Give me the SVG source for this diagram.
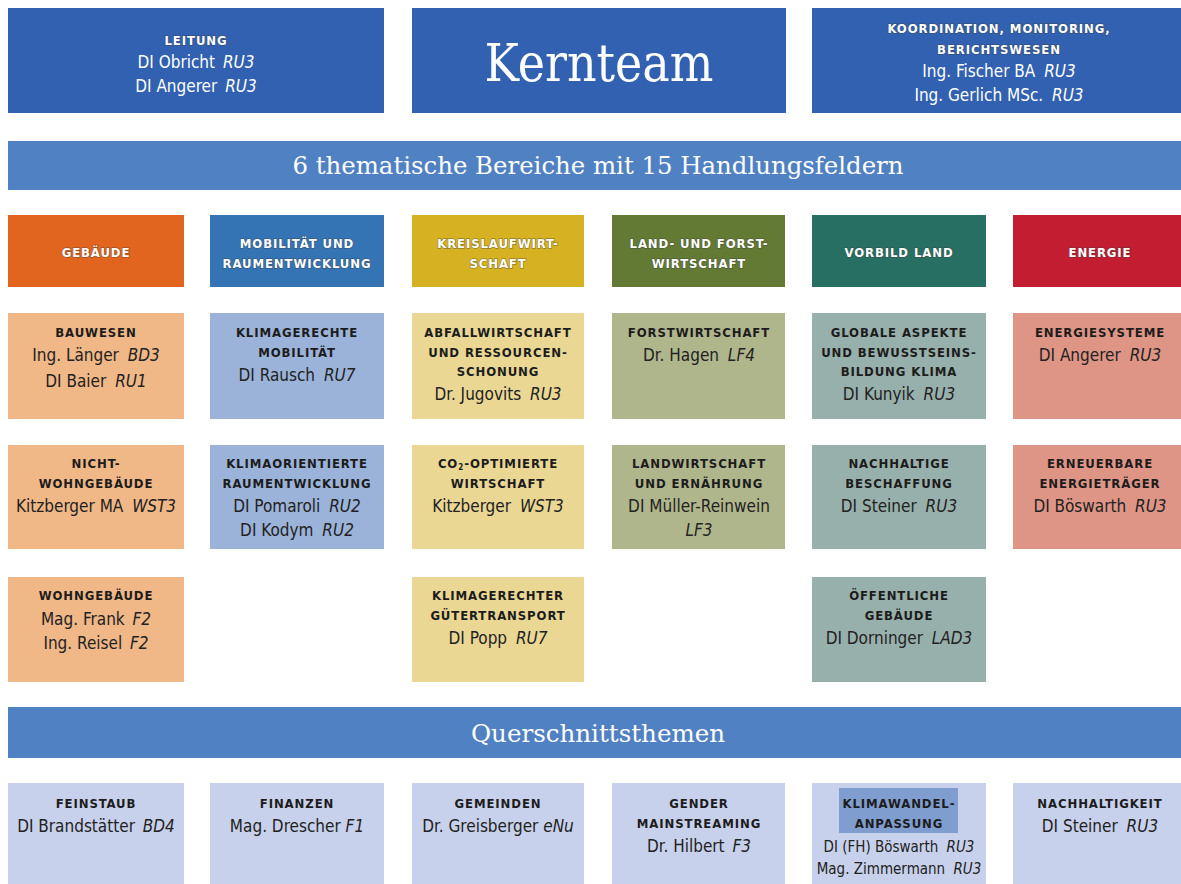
<svg xmlns="http://www.w3.org/2000/svg" width="1181" height="884" viewBox="0 0 1181 884">
<style>
.t{font-family:"Liberation Sans Narrow","DejaVu Sans Condensed","Roboto Condensed",Roboto,sans-serif;text-anchor:middle}
.h{font-weight:bold;font-size:13px;letter-spacing:0.9px;fill:#1c1c1c}
.n{font-size:17px;fill:#222}
.s{font-size:15px;fill:#222}
.i{font-style:italic}
.w{fill:#fff}
.c{fill:#fff;stroke:#3a3a3a;stroke-opacity:0.45;stroke-width:1.4px;paint-order:stroke}
.sf{font-family:"DejaVu Serif","Liberation Serif",serif;fill:#fff;text-anchor:middle}
.top{fill:#3161B0}
.band{fill:#5081C3}
</style>
<rect width="1181" height="884" fill="#fff"/>

<g id="leitung">
<rect class="top" x="8" y="8" width="376" height="105"/>
<text class="t h c" x="196" y="45">LEITUNG</text>
<text class="t n w" x="196" y="68">DI Obricht <tspan class="i" dx="3">RU3</tspan></text>
<text class="t n w" x="196" y="92">DI Angerer <tspan class="i" dx="3">RU3</tspan></text>
</g>
<g id="kernteam">
<rect class="top" x="412" y="8" width="374" height="105"/>
<text class="sf" x="599" y="81" font-size="53" textLength="229" lengthAdjust="spacingAndGlyphs">Kernteam</text>
</g>
<g id="koordination">
<rect class="top" x="812" y="8" width="369" height="105"/>
<text class="t h c" x="999" y="33">KOORDINATION, MONITORING,</text>
<text class="t h c" x="999" y="54">BERICHTSWESEN</text>
<text class="t n w" x="999" y="77">Ing. Fischer BA <tspan class="i" dx="4">RU3</tspan></text>
<text class="t n w" x="999" y="101">Ing. Gerlich MSc. <tspan class="i" dx="4">RU3</tspan></text>
</g>

<g id="band-bereiche">
<rect class="band" x="8" y="141" width="1173" height="49"/>
<text class="sf" x="598" y="174" font-size="24" textLength="611" lengthAdjust="spacingAndGlyphs">6 thematische Bereiche mit 15 Handlungsfeldern</text>
</g>

<!-- category headers -->
<g id="cat-gebaeude">
<rect x="8" y="215" width="176" height="72" fill="#E2651F"/>
<text class="t h c" x="96" y="257">GEBÄUDE</text>
</g>
<g id="cat-mobilitaet">
<rect x="210" y="215" width="174" height="72" fill="#3574B4"/>
<text class="t h c" x="297" y="248">MOBILITÄT UND</text>
<text class="t h c" x="297" y="268">RAUMENTWICKLUNG</text>
</g>
<g id="cat-kreislauf">
<rect x="412" y="215" width="172" height="72" fill="#D6B222"/>
<text class="t h c" x="498" y="248">KREISLAUFWIRT-</text>
<text class="t h c" x="498" y="268">SCHAFT</text>
</g>
<g id="cat-land">
<rect x="612" y="215" width="173" height="72" fill="#637A35"/>
<text class="t h c" x="699" y="248">LAND- UND FORST-</text>
<text class="t h c" x="699" y="268">WIRTSCHAFT</text>
</g>
<g id="cat-vorbild">
<rect x="812" y="215" width="174" height="72" fill="#266F62"/>
<text class="t h c" x="899" y="257">VORBILD LAND</text>
</g>
<g id="cat-energie">
<rect x="1013" y="215" width="168" height="72" fill="#C21D31"/>
<text class="t h c" x="1100" y="257">ENERGIE</text>
</g>

<!-- row 1 -->
<g id="bauwesen">
<rect x="8" y="313" width="176" height="106" fill="#F0B787"/>
<text class="t h" x="96" y="337">BAUWESEN</text>
<text class="t n" x="96" y="361">Ing. Länger <tspan class="i" dx="4">BD3</tspan></text>
<text class="t n" x="96" y="387">DI Baier <tspan class="i" dx="4">RU1</tspan></text>
</g>
<g id="klimagerechte-mobilitaet">
<rect x="210" y="313" width="174" height="106" fill="#9BB3D9"/>
<text class="t h" x="297" y="337">KLIMAGERECHTE</text>
<text class="t h" x="297" y="357">MOBILITÄT</text>
<text class="t n" x="297" y="381">DI Rausch <tspan class="i" dx="4">RU7</tspan></text>
</g>
<g id="abfallwirtschaft">
<rect x="412" y="313" width="172" height="106" fill="#EAD794"/>
<text class="t h" x="498" y="337">ABFALLWIRTSCHAFT</text>
<text class="t h" x="498" y="357">UND RESSOURCEN-</text>
<text class="t h" x="498" y="376">SCHONUNG</text>
<text class="t n" x="498" y="400">Dr. Jugovits <tspan class="i" dx="4">RU3</tspan></text>
</g>
<g id="forstwirtschaft">
<rect x="612" y="313" width="173" height="106" fill="#B0B68C"/>
<text class="t h" x="699" y="337">FORSTWIRTSCHAFT</text>
<text class="t n" x="699" y="361">Dr. Hagen <tspan class="i" dx="4">LF4</tspan></text>
</g>
<g id="globale-aspekte">
<rect x="812" y="313" width="174" height="106" fill="#98B0AB"/>
<text class="t h" x="899" y="337">GLOBALE ASPEKTE</text>
<text class="t h" x="899" y="357">UND BEWUSSTSEINS-</text>
<text class="t h" x="899" y="376">BILDUNG KLIMA</text>
<text class="t n" x="899" y="400">DI Kunyik <tspan class="i" dx="4">RU3</tspan></text>
</g>
<g id="energiesysteme">
<rect x="1013" y="313" width="168" height="106" fill="#DF9585"/>
<text class="t h" x="1100" y="337">ENERGIESYSTEME</text>
<text class="t n" x="1100" y="361">DI Angerer <tspan class="i" dx="4">RU3</tspan></text>
</g>

<!-- row 2 -->
<g id="nichtwohngebaeude">
<rect x="8" y="445" width="176" height="104" fill="#F0B787"/>
<text class="t h" x="96" y="468">NICHT-</text>
<text class="t h" x="96" y="488">WOHNGEBÄUDE</text>
<text class="t n" x="96" y="512">Kitzberger MA <tspan class="i" dx="4">WST3</tspan></text>
</g>
<g id="klimaorientierte-raumentwicklung">
<rect x="210" y="445" width="174" height="104" fill="#9BB3D9"/>
<text class="t h" x="297" y="468">KLIMAORIENTIERTE</text>
<text class="t h" x="297" y="488">RAUMENTWICKLUNG</text>
<text class="t n" x="297" y="512">DI Pomaroli <tspan class="i" dx="4">RU2</tspan></text>
<text class="t n" x="297" y="536">DI Kodym <tspan class="i" dx="4">RU2</tspan></text>
</g>
<g id="co2-wirtschaft">
<rect x="412" y="445" width="172" height="104" fill="#EAD794"/>
<text class="t h" x="498" y="468">CO<tspan font-size="8" dy="2">2</tspan><tspan dy="-2">-OPTIMIERTE</tspan></text>
<text class="t h" x="498" y="488">WIRTSCHAFT</text>
<text class="t n" x="498" y="512">Kitzberger <tspan class="i" dx="4">WST3</tspan></text>
</g>
<g id="landwirtschaft">
<rect x="612" y="445" width="173" height="104" fill="#B0B68C"/>
<text class="t h" x="699" y="468">LANDWIRTSCHAFT</text>
<text class="t h" x="699" y="488">UND ERNÄHRUNG</text>
<text class="t n" x="699" y="512">DI Müller-Reinwein</text>
<text class="t n i" x="699" y="536">LF3</text>
</g>
<g id="nachhaltige-beschaffung">
<rect x="812" y="445" width="174" height="104" fill="#98B0AB"/>
<text class="t h" x="899" y="468">NACHHALTIGE</text>
<text class="t h" x="899" y="488">BESCHAFFUNG</text>
<text class="t n" x="899" y="512">DI Steiner <tspan class="i" dx="4">RU3</tspan></text>
</g>
<g id="erneuerbare">
<rect x="1013" y="445" width="168" height="104" fill="#DF9585"/>
<text class="t h" x="1100" y="468">ERNEUERBARE</text>
<text class="t h" x="1100" y="488">ENERGIETRÄGER</text>
<text class="t n" x="1100" y="512">DI Böswarth <tspan class="i" dx="4">RU3</tspan></text>
</g>

<!-- row 3 -->
<g id="wohngebaeude">
<rect x="8" y="577" width="176" height="105" fill="#F0B787"/>
<text class="t h" x="96" y="600">WOHNGEBÄUDE</text>
<text class="t n" x="96" y="625">Mag. Frank <tspan class="i" dx="3">F2</tspan></text>
<text class="t n" x="96" y="649">Ing. Reisel <tspan class="i" dx="3">F2</tspan></text>
</g>
<g id="guetertransport">
<rect x="412" y="577" width="172" height="105" fill="#EAD794"/>
<text class="t h" x="498" y="600">KLIMAGERECHTER</text>
<text class="t h" x="498" y="620">GÜTERTRANSPORT</text>
<text class="t n" x="498" y="644">DI Popp <tspan class="i" dx="4">RU7</tspan></text>
</g>
<g id="oeffentliche-gebaeude">
<rect x="812" y="577" width="174" height="105" fill="#98B0AB"/>
<text class="t h" x="899" y="600">ÖFFENTLICHE</text>
<text class="t h" x="899" y="620">GEBÄUDE</text>
<text class="t n" x="899" y="644">DI Dorninger <tspan class="i" dx="4">LAD3</tspan></text>
</g>

<g id="band-quer">
<rect class="band" x="8" y="707" width="1173" height="51"/>
<text class="sf" x="598" y="742" font-size="24" textLength="254" lengthAdjust="spacingAndGlyphs">Querschnittsthemen</text>
</g>

<!-- bottom row -->
<g id="feinstaub">
<rect x="8" y="783" width="176" height="101" fill="#C7D1EB"/>
<text class="t h" x="96" y="808">FEINSTAUB</text>
<text class="t n" x="96" y="832">DI Brandstätter <tspan class="i" dx="3">BD4</tspan></text>
</g>
<g id="finanzen">
<rect x="210" y="783" width="174" height="101" fill="#C7D1EB"/>
<text class="t h" x="297" y="808">FINANZEN</text>
<text class="t n" x="297" y="832">Mag. Drescher <tspan class="i">F1</tspan></text>
</g>
<g id="gemeinden">
<rect x="412" y="783" width="172" height="101" fill="#C7D1EB"/>
<text class="t h" x="498" y="808">GEMEINDEN</text>
<text class="t n" x="498" y="832">Dr. Greisberger <tspan class="i">eNu</tspan></text>
</g>
<g id="gender">
<rect x="612" y="783" width="173" height="101" fill="#C7D1EB"/>
<text class="t h" x="699" y="808">GENDER</text>
<text class="t h" x="699" y="828">MAINSTREAMING</text>
<text class="t n" x="699" y="852">Dr. Hilbert <tspan class="i" dx="3">F3</tspan></text>
</g>
<g id="klimawandelanpassung">
<rect x="812" y="783" width="174" height="101" fill="#C7D1EB"/>
<rect x="839" y="788" width="119" height="45" fill="#7F9DCF"/>
<text class="t h" x="899" y="808">KLIMAWANDEL-</text>
<text class="t h" x="899" y="828">ANPASSUNG</text>
<text class="t s" x="899" y="852">DI (FH) Böswarth <tspan class="i" dx="4">RU3</tspan></text>
<text class="t s" x="899" y="874">Mag. Zimmermann <tspan class="i" dx="4">RU3</tspan></text>
</g>
<g id="nachhaltigkeit">
<rect x="1013" y="783" width="168" height="101" fill="#C7D1EB"/>
<text class="t h" x="1100" y="808">NACHHALTIGKEIT</text>
<text class="t n" x="1100" y="832">DI Steiner <tspan class="i" dx="4">RU3</tspan></text>
</g>

<g id="connectors"></g>
</svg>
